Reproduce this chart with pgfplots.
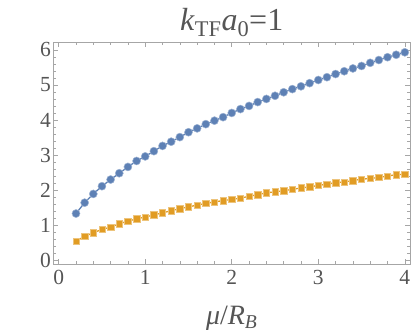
\documentclass[border=0pt]{standalone}
\usepackage{fontspec}
\setmainfont{Liberation Serif}
\usepackage{pgfplots}
\pgfplotsset{compat=1.18}
\definecolor{mblue}{HTML}{5E81B5}
\definecolor{morange}{HTML}{E19C24}
\definecolor{frame}{HTML}{A6A6A6}
\definecolor{txt}{HTML}{555555}
\begin{document}
\begin{tikzpicture}
\path[use as bounding box] (-53.5pt,-68pt) rectangle ++(415pt,332pt);
\begin{axis}[
  scale only axis, width=356.5pt, height=221.5pt,
  xmin=-0.06, xmax=4.06, ymin=-0.11, ymax=6.21,
  xtick={0,1,2,3,4}, ytick={0,1,2,3,4,5,6},
  minor x tick num=4, minor y tick num=4,
  tick align=inside, major tick length=5pt, minor tick length=3pt,
  axis line style={frame, line width=0.8pt},
  tick style={frame, line width=0.6pt},
  /pgf/number format/assume math mode=true,
  ticklabel style={font=\fontsize{21.5}{24}\selectfont, text=txt},
  xticklabel style={yshift=-3pt},
  yticklabel style={xshift=1pt},
  title={\textit{k}\textsubscript{TF}\textit{a}\textsubscript{0}=1},
  title style={font=\fontsize{32}{36}\selectfont, text=txt, yshift=-4pt},
  xlabel={\textit{μ}/\textit{R}\textsubscript{\textit{B}}},
  xlabel style={font=\fontsize{28}{32}\selectfont, text=txt, yshift=-14pt},
]
\addplot[mblue, line width=1.3pt, mark=*, mark size=4pt, mark options={fill=mblue, draw=mblue!60!white, line width=0.5pt}] coordinates {
(0.2,1.33)(0.3,1.64)(0.4,1.89)(0.5,2.11)(0.6,2.30)(0.7,2.48)(0.8,2.66)(0.9,2.83)
(1.0,2.96)(1.1,3.11)(1.2,3.26)(1.3,3.38)(1.4,3.51)(1.5,3.65)(1.6,3.76)(1.7,3.88)
(1.8,3.98)(1.9,4.08)(2.0,4.20)(2.1,4.31)(2.2,4.40)(2.3,4.51)(2.4,4.60)(2.5,4.69)
(2.6,4.79)(2.7,4.88)(2.8,4.96)(2.9,5.05)(3.0,5.14)(3.1,5.22)(3.2,5.31)(3.3,5.39)
(3.4,5.47)(3.5,5.54)(3.6,5.63)(3.7,5.71)(3.8,5.79)(3.9,5.86)(4.0,5.93)
};
\addplot[morange, line width=1.3pt, mark=square*, mark size=3.2pt, mark options={fill=morange, draw=morange!60!white, line width=0.5pt}] coordinates {
(0.2,0.54)(0.3,0.68)(0.4,0.78)(0.5,0.88)(0.6,0.94)(0.7,1.04)(0.8,1.11)(0.9,1.18)
(1.0,1.23)(1.1,1.29)(1.2,1.35)(1.3,1.41)(1.4,1.47)(1.5,1.52)(1.6,1.57)(1.7,1.62)
(1.8,1.66)(1.9,1.70)(2.0,1.73)(2.1,1.77)(2.2,1.82)(2.3,1.87)(2.4,1.92)(2.5,1.95)
(2.6,1.98)(2.7,2.02)(2.8,2.06)(2.9,2.09)(3.0,2.13)(3.1,2.17)(3.2,2.21)(3.3,2.23)
(3.4,2.27)(3.5,2.31)(3.6,2.33)(3.7,2.36)(3.8,2.40)(3.9,2.44)(4.0,2.45)
};
\end{axis}
\end{tikzpicture}
\end{document}
